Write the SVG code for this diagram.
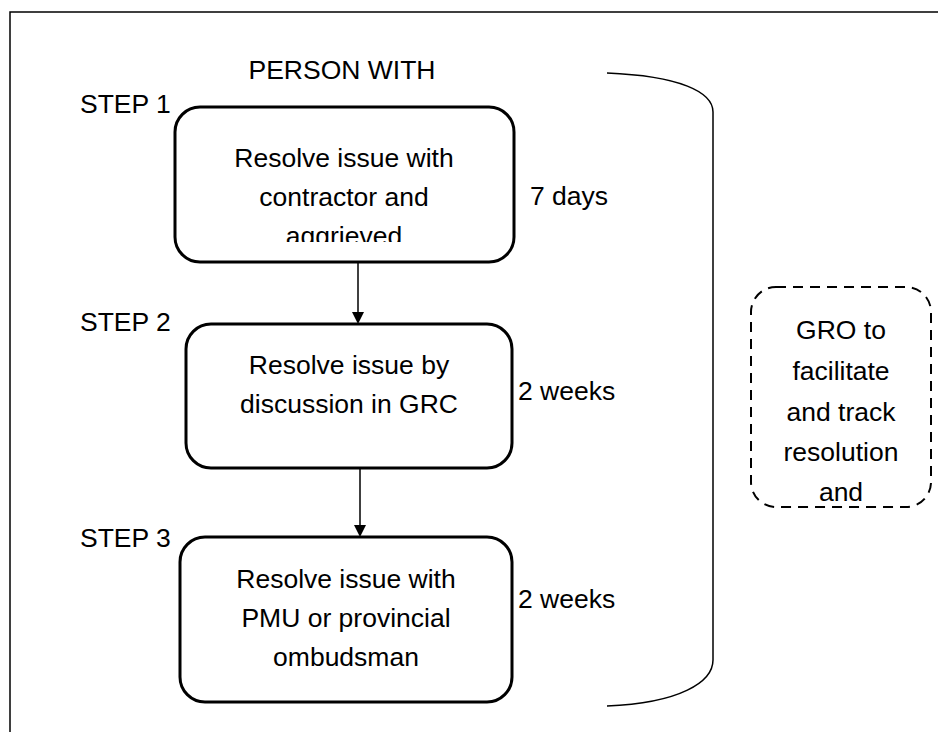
<svg xmlns="http://www.w3.org/2000/svg" width="938" height="732" viewBox="0 0 938 732">
<defs>
<style>
text{font-family:"Liberation Sans",Arial,sans-serif;font-size:26.5px;fill:#000}
.c{text-anchor:middle}
.box{fill:#fff;stroke:#000;stroke-width:3}
.dash{fill:#fff;stroke:#000;stroke-width:2;stroke-dasharray:10 7}
.ln{fill:none;stroke:#000;stroke-width:1.5}
</style>
<marker id="ah" markerWidth="12" markerHeight="12" refX="10" refY="6" orient="auto" markerUnits="userSpaceOnUse">
<path d="M0,0 L12,6 L0,12 Z" fill="#000"/>
</marker>
<clipPath id="clip1"><rect x="175" y="107" width="339" height="135"/></clipPath>
</defs>
<rect width="938" height="732" fill="#fff"/>
<path class="ln" d="M10,732 V12 H938" stroke-width="2"/>
<g id="labels">
<text class="c" x="342" y="79">PERSON WITH</text>
<text x="80" y="113">STEP 1</text>
<text x="80" y="331">STEP 2</text>
<text x="80" y="547">STEP 3</text>
<text x="530" y="205">7 days</text>
<text x="518" y="400">2 weeks</text>
<text x="518" y="608">2 weeks</text>
</g>
<g id="step1">
<rect class="box" x="175" y="107" width="339" height="155" rx="25"/>
<g clip-path="url(#clip1)">
<text class="c" x="344" y="167">Resolve issue with</text>
<text class="c" x="344" y="206">contractor and</text>
<text class="c" x="344" y="245">aggrieved</text>
</g>
</g>
<g id="step2">
<rect class="box" x="186" y="324" width="326" height="144" rx="25"/>
<text class="c" x="349" y="374">Resolve issue by</text>
<text class="c" x="349" y="413">discussion in GRC</text>
</g>
<g id="step3">
<rect class="box" x="180" y="537" width="332" height="165" rx="25"/>
<text class="c" x="346" y="588">Resolve issue with</text>
<text class="c" x="346" y="627">PMU or provincial</text>
<text class="c" x="346" y="666">ombudsman</text>
</g>
<g id="brace">
<path class="ln" d="M607,73 C680,76 713,92 713,112 V660 C713,682 680,703 607,706"/>
</g>
<g id="gro">
<rect class="dash" x="751" y="287" width="180" height="220" rx="25"/>
<text class="c" x="841" y="339">GRO to</text>
<text class="c" x="841" y="380">facilitate</text>
<text class="c" x="841" y="421">and track</text>
<text class="c" x="841" y="461">resolution</text>
<text class="c" x="841" y="501">and</text>
</g>
<g id="connectors">
<line class="ln" x1="358" y1="262" x2="358" y2="322" marker-end="url(#ah)"/>
<line class="ln" x1="360" y1="468" x2="360" y2="535" marker-end="url(#ah)"/>
</g>
</svg>
